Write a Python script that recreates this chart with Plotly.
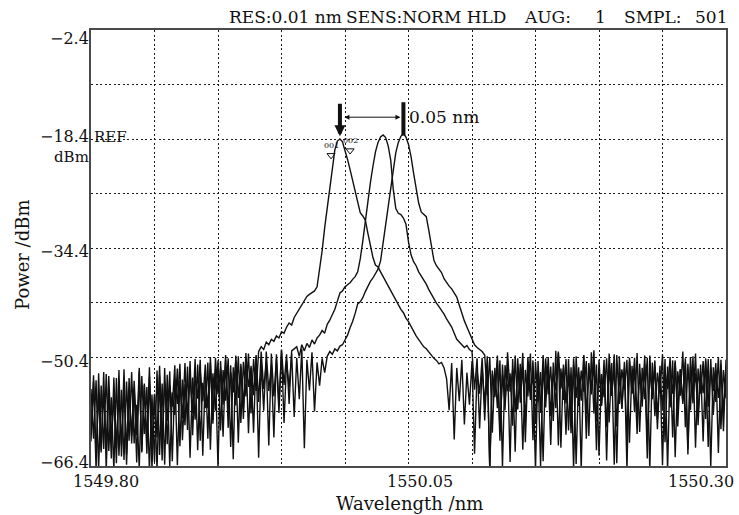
import numpy as np
import plotly.graph_objects as go

# Sampling of the optical spectrum analyser sweep
WL_START = 1549.80
WL_STEP = 0.002

# Trace A (shortest-wavelength line), dBm per sample
trace_a = [
    # noise floor
    -55.1, -62.4, -53.8, -66.9, -54.6, -63.9, -52.9, -64.2, -56.3, -67.0,
    -53.5, -64.9, -55.2, -65.5, -54.0, -62.7, -52.6, -63.1, -57.4, -66.8,
    -53.2, -61.7, -54.8, -67.0, -55.9, -65.8, -52.4, -64.8, -54.3, -66.2,
    -53.0, -66.5, -55.6, -58.9, -52.1, -63.5, -53.7, -60.4, -51.8, -65.2,
    -53.4, -59.6, -51.5, -62.7, -54.2, -57.9, -51.2, -64.0, -52.8, -58.3,
    -50.9, -61.2, -52.3, -56.8, -50.6, -63.6, -51.9, -57.5, -50.3, -60.1,
    -51.1, -56.2, -49.9, -58.7, -50.7, -55.4,
    # line
    -49.6, -48.9, -49.3, -48.2, -48.6, -47.8, -48.1, -47.3, -47.6, -46.7,
    -46.9, -46.0, -45.4, -45.7, -44.6, -44.0, -43.3, -42.7, -42.2, -41.5,
    -41.2, -41.0, -40.7, -40.1, -37.6, -34.8, -31.4, -28.6, -25.4, -22.4,
    -20.0, -18.7, -18.4, -18.8, -20.0, -21.4, -22.9, -24.5, -26.1, -27.9,
    -29.2, -29.7, -30.3, -32.2, -34.0, -35.8, -36.9, -37.2, -37.9, -38.6,
    -39.4, -39.9, -40.8, -41.3, -42.1, -42.8, -43.4, -43.9, -44.7, -45.2,
    -45.8, -46.6, -47.3, -47.9, -48.3, -48.9, -49.2, -49.7, -50.1, -50.6,
    -50.9, -51.4, -51.2, -52.0,
    # noise floor
    -53.6, -58.2, -51.3, -62.5, -52.0, -56.9, -50.8, -60.3, -52.7, -57.4,
    -51.0, -64.6, -52.4, -55.8, -50.5, -59.7, -51.6, -67.0, -52.9, -56.3,
    -50.2, -61.4, -53.1, -57.0, -51.4, -65.8, -50.7, -58.5, -52.2, -55.6,
    -49.8, -62.9, -51.8, -56.7, -50.9, -60.2, -52.5, -66.4, -51.3, -57.8,
    -50.4, -59.1, -52.8, -55.3, -49.6, -63.7, -51.5, -57.2, -53.0, -61.6,
    -50.6, -56.4, -51.9, -67.0, -50.1, -58.8, -52.3, -55.9, -51.1, -64.1,
    -50.8, -57.6, -52.6, -60.7, -49.9, -56.1, -51.7, -66.0, -50.3, -58.0,
    -52.1, -62.3, -51.0, -55.7, -50.5, -59.4, -52.8, -57.1, -51.4, -65.3,
    -50.2, -56.6, -51.8, -61.0, -52.4, -58.3, -50.7, -67.0, -51.6, -55.8,
    -50.9, -60.6, -52.2, -57.3, -51.2, -63.9, -50.4, -56.2, -52.7, -59.0,
    -51.5, -62.8, -50.6, -57.7, -52.0, -55.4, -51.3, -64.5, -50.8, -58.6, -52.4,
]

# Trace B (middle line)
trace_b = [
    -62.8, -53.1, -65.0, -55.7, -64.1, -52.6, -67.0, -54.9, -65.3, -53.4,
    -63.8, -56.0, -63.4, -52.2, -66.2, -55.3, -62.0, -53.9, -61.9, -52.0,
    -64.4, -54.5, -64.6, -53.3, -66.8, -55.8, -62.2, -51.7, -63.0, -54.1,
    -59.8, -52.5, -65.7, -53.6, -57.3, -51.4, -62.6, -54.4, -58.9, -51.0,
    -61.9, -52.9, -56.5, -50.8, -64.9, -53.0, -57.9, -51.3, -60.2, -50.5,
    -55.9, -52.1, -62.1, -50.9, -58.1, -51.6, -65.4, -50.2, -56.4, -51.8,
    -59.5, -50.4, -54.8, -52.0, -61.5, -50.1, -57.0, -49.6, -55.1, -51.2,
    -63.4, -49.9, -56.2, -50.6, -58.6, -49.3, -54.5, -50.0, -57.3, -49.5,
    -49.2, -48.9, -50.3, -48.6, -49.5, -48.4, -49.0, -47.9, -48.5, -47.6,
    -47.2, -46.5, -46.9, -45.6, -45.0, -44.3, -43.4, -42.2, -41.0, -40.7,
    -40.1, -39.8, -39.5, -39.0, -38.6, -37.9, -36.0, -33.4, -30.4, -27.0,
    -24.8, -22.4, -20.3, -18.9, -18.1, -17.8, -18.2, -19.4, -21.5, -25.8,
    -28.6, -29.3, -29.5, -30.0, -30.9, -33.5, -35.4, -36.4, -37.0, -37.9,
    -38.5, -39.0, -39.7, -40.5, -41.2, -41.9, -42.5, -43.0, -43.5, -44.1,
    -44.8, -45.4, -46.0, -46.9, -47.8, -48.2, -48.6, -49.0, -48.7, -49.3,
    -49.6,
    -55.2, -50.6, -60.9, -51.9, -57.5, -50.3, -66.7, -52.4, -56.0, -50.9,
    -62.7, -51.5, -58.2, -49.7, -55.5, -52.2, -64.3, -50.6, -57.1, -51.8,
    -60.0, -50.4, -55.6, -52.9, -67.0, -51.0, -58.6, -50.1, -56.3, -52.5,
    -63.3, -51.2, -57.9, -49.8, -55.0, -52.0, -61.8, -50.7, -59.3, -51.6,
    -66.1, -52.6, -56.8, -50.2, -62.4, -51.3, -55.3, -49.4, -59.9, -52.1,
    -57.4, -50.8, -65.6, -51.9, -56.1, -50.0, -60.6, -52.7, -58.0, -51.1,
    -67.0, -50.5, -55.8, -52.3, -61.7, -51.4, -57.7, -50.2, -63.1, -52.0,
    -56.5, -50.9, -59.6, -51.7, -66.3, -52.5, -55.1, -50.4, -62.2, -51.2,
    -58.4, -52.2, -56.9, -50.6, -64.7, -51.8, -57.2, -49.9, -60.4, -52.6,
    -55.7, -51.0, -63.6, -50.7, -58.9, -52.3, -56.4, -51.5, -61.3, -50.8,
]

# Trace C (longest-wavelength line)
trace_c = [
    -61.8, -54.0, -67.0, -52.8, -64.4, -55.5, -63.6, -53.2, -62.6, -56.1,
    -66.0, -52.3, -65.0, -54.7, -64.7, -53.5, -63.1, -55.0, -65.9, -52.5,
    -64.2, -54.3, -62.9, -51.9, -63.3, -56.0, -67.0, -53.1, -65.6, -52.0,
    -63.2, -54.6, -57.7, -51.6, -66.3, -53.8, -59.4, -51.3, -61.1, -52.9,
    -58.7, -50.7, -64.1, -52.4, -56.9, -51.5, -62.4, -50.4, -59.6, -52.2,
    -66.8, -51.0, -57.4, -50.1, -60.8, -52.6, -55.6, -50.9, -63.0, -51.4,
    -57.8, -49.8, -61.6, -51.7, -56.0, -50.3, -65.2, -51.1, -58.3, -49.6,
    -55.4, -51.5, -62.2, -50.0, -57.5, -49.4, -60.1, -51.0, -54.9, -49.9,
    -59.2, -50.5, -56.6, -49.2, -63.8, -50.8, -55.3, -49.7, -58.4, -51.2,
    -54.6, -50.6, -52.7,
    -50.3, -49.6, -50.0, -49.2, -49.5, -48.8, -48.6, -47.9, -47.2, -46.1,
    -45.2, -44.0, -42.6, -42.3, -41.7, -40.8, -40.0, -39.3, -38.8, -38.1,
    -37.5, -36.3, -33.6, -31.0, -28.2, -26.0, -22.5, -20.4, -18.9, -18.0,
    -17.6, -18.1, -19.2, -21.0, -23.4, -25.6, -27.8, -29.1, -29.5, -29.8,
    -31.8, -34.0, -36.2, -37.0, -37.5, -38.0, -38.9, -39.5, -40.0, -40.4,
    -41.0, -41.6, -42.8, -44.0, -45.1, -46.0, -46.9, -47.9, -48.6, -49.0,
    -49.3, -49.6, -50.1,
    -56.0, -50.4, -61.5, -52.0, -57.9, -50.9, -66.5, -51.6, -55.4, -52.8,
    -60.5, -50.2, -58.1, -51.4, -64.0, -52.3, -56.2, -49.9, -62.6, -51.1,
    -57.0, -52.6, -65.7, -50.6, -55.9, -51.8, -59.8, -49.5, -63.4, -52.1,
    -56.7, -50.7, -61.2, -51.9, -67.0, -50.3, -57.6, -52.4, -55.5, -51.0,
    -62.0, -49.7, -58.7, -51.5, -64.9, -52.9, -56.3, -50.6, -60.0, -51.3,
    -66.2, -50.1, -57.3, -52.2, -55.2, -50.8, -63.0, -51.7, -58.5, -49.8,
    -61.4, -52.0, -56.6, -50.5, -67.0, -51.2, -59.1, -52.7, -55.7, -50.0,
    -62.9, -51.8, -57.8, -50.9, -65.1, -52.5, -56.1, -49.6, -60.7, -51.4,
    -58.2, -50.3, -63.7, -52.1, -55.8, -51.0, -59.5, -50.7, -66.6, -51.9,
    -57.0, -50.4, -61.0, -52.3, -56.5,
]

for tr in (trace_a, trace_b, trace_c):
    assert len(tr) == 251, len(tr)

# Axis definition
X_RANGE = [1549.80, 1550.30]
X_GRID_STEP = 0.05
Y_RANGE = [-66.4, -2.4]
Y_GRID_STEP = 8.0
X_TICK_LABELS = [1549.80, 1550.05, 1550.30]
Y_TICK_LABELS = [-2.4, -18.4, -34.4, -50.4, -66.4]

# Instrument settings line
HEADER = [("RES:0.01 nm", 344, "right"), ("SENS:NORM HLD", 344, "left"),
          ("AUG:", 522, "left"), ("1", 593, "left"),
          ("SMPL:", 622, "left"), ("501", 693, "left")]

SPACING_LABEL = "0.05 nm"
MARKER_TAGS = [("001", 1549.989, -19.3), ("002", 1550.004, -18.6)]

FONT = "DejaVu Serif"
INK = "#111111"

# Figure geometry in pixels
W, H = 739, 515
ML, MR, MT, MB = 91, 13, 30, 49
PW, PH = W - ML - MR, H - MT - MB


def px_x(px):
    return (px - ML) / PW


def px_y(py):
    return (H - MB - py) / PH


wl = WL_START + WL_STEP * np.arange(251)

fig = go.Figure()
for tr in (trace_a, trace_b, trace_c):
    fig.add_trace(go.Scatter(x=wl, y=tr, mode="lines",
                             line=dict(color=INK, width=1.4),
                             hoverinfo="skip"))

x_grid = [round(X_RANGE[0] + k * X_GRID_STEP, 3) for k in range(11)]
y_grid = [round(Y_RANGE[0] + k * Y_GRID_STEP, 1) for k in range(9)]

axis_common = dict(showgrid=True, gridcolor="#1a1a1a", gridwidth=1.3,
                   griddash="2px,2.5px", showline=True, mirror=True,
                   linecolor="#4a4a4a", linewidth=2, zeroline=False,
                   showticklabels=False, ticks="", fixedrange=True)

fig.update_layout(
    width=W, height=H,
    margin=dict(l=ML, r=MR, t=MT, b=MB),
    paper_bgcolor="white", plot_bgcolor="white",
    showlegend=False,
    xaxis=dict(range=X_RANGE, tickvals=x_grid, **axis_common),
    yaxis=dict(range=Y_RANGE, tickvals=y_grid, **axis_common),
    font=dict(family=FONT, color=INK),
)

ann = []

# Header line above the plot
for text, px, anchor in HEADER:
    ann.append(dict(text=text, xref="paper", yref="paper", x=px_x(px),
                    y=px_y(17), xanchor=anchor, yanchor="middle",
                    showarrow=False, font=dict(size=17, family=FONT)))

# Wavelength tick labels
x_shifts = [15, 11, -25]
for v, s in zip(X_TICK_LABELS, x_shifts):
    ann.append(dict(text=f"{v:.2f}", xref="x", yref="paper", x=v, y=0,
                    xanchor="center", yanchor="middle", xshift=s, yshift=-15,
                    showarrow=False, font=dict(size=16, family=FONT)))

# Power tick labels
y_shifts = [-8, 3, -3, -4, 4]
for v, s in zip(Y_TICK_LABELS, y_shifts):
    ann.append(dict(text=f"\u2212{abs(v):.1f}", xref="paper", yref="y",
                    x=0, y=v, xanchor="right", yanchor="middle",
                    xshift=-1, yshift=s, showarrow=False, borderpad=0,
                    font=dict(size=16, family=FONT)))

ref_level = Y_TICK_LABELS[1]
ann.append(dict(text="dBm", xref="paper", yref="y", x=0, y=ref_level,
                xanchor="right", yanchor="middle", xshift=-1, yshift=-18,
                showarrow=False, borderpad=0,
                font=dict(size=15, family=FONT)))
ann.append(dict(text="REF", xref="paper", yref="y", x=0, y=ref_level,
                xanchor="left", yanchor="middle", xshift=1, yshift=2,
                showarrow=False, font=dict(size=15, family=FONT)))

# Axis titles
ann.append(dict(text="Wavelength /nm", xref="paper", yref="paper",
                x=px_x(410), y=0, xanchor="center", yanchor="middle",
                yshift=-37, showarrow=False, font=dict(size=18, family=FONT)))
ann.append(dict(text="Power /dBm", xref="paper", yref="paper",
                x=px_x(23), y=px_y(255), xanchor="center", yanchor="middle",
                textangle=-90, showarrow=False,
                font=dict(size=18, family=FONT)))

# Delta markers between the two outer peaks
peak_a = wl[int(np.argmax(trace_a))]
peak_c = wl[int(np.argmax(trace_c))]
bar_top = -13.0
bar_bottom = -17.9
span_y = -15.2

ann.append(dict(x=peak_a, y=bar_bottom - 0.1, ax=peak_a, ay=bar_top,
                xref="x", yref="y", axref="x", ayref="y", text="",
                showarrow=True, arrowhead=2, arrowsize=0.55, arrowwidth=4,
                arrowcolor=INK))
ann.append(dict(x=peak_c, y=span_y, ax=peak_a, ay=span_y,
                xref="x", yref="y", axref="x", ayref="y", text="",
                showarrow=True, arrowhead=2, arrowside="end+start",
                arrowsize=1, arrowwidth=1, standoff=3, startstandoff=3,
                arrowcolor=INK))
ann.append(dict(text=SPACING_LABEL, xref="x", yref="y", x=peak_c, y=span_y,
                xanchor="left", yanchor="middle", xshift=4,
                showarrow=False, font=dict(size=17, family=FONT)))

fig.add_shape(type="line", xref="x", yref="y", x0=peak_c, x1=peak_c,
              y0=bar_top, y1=bar_bottom, line=dict(color=INK, width=4))

# Trace marker tags near the first peak
for tag, x, y in MARKER_TAGS:
    ann.append(dict(text=tag, xref="x", yref="y", x=x, y=y,
                    xanchor="center", yanchor="middle", showarrow=False,
                    font=dict(size=8, family=FONT)))
fig.add_trace(go.Scatter(x=[m[1] for m in MARKER_TAGS],
                         y=[m[2] - 1.5 for m in MARKER_TAGS],
                         mode="markers", hoverinfo="skip",
                         marker=dict(symbol="triangle-down-open", size=7,
                                     color=INK, line=dict(width=1))))

fig.update_layout(annotations=ann)
fig.write_html("out.html")
